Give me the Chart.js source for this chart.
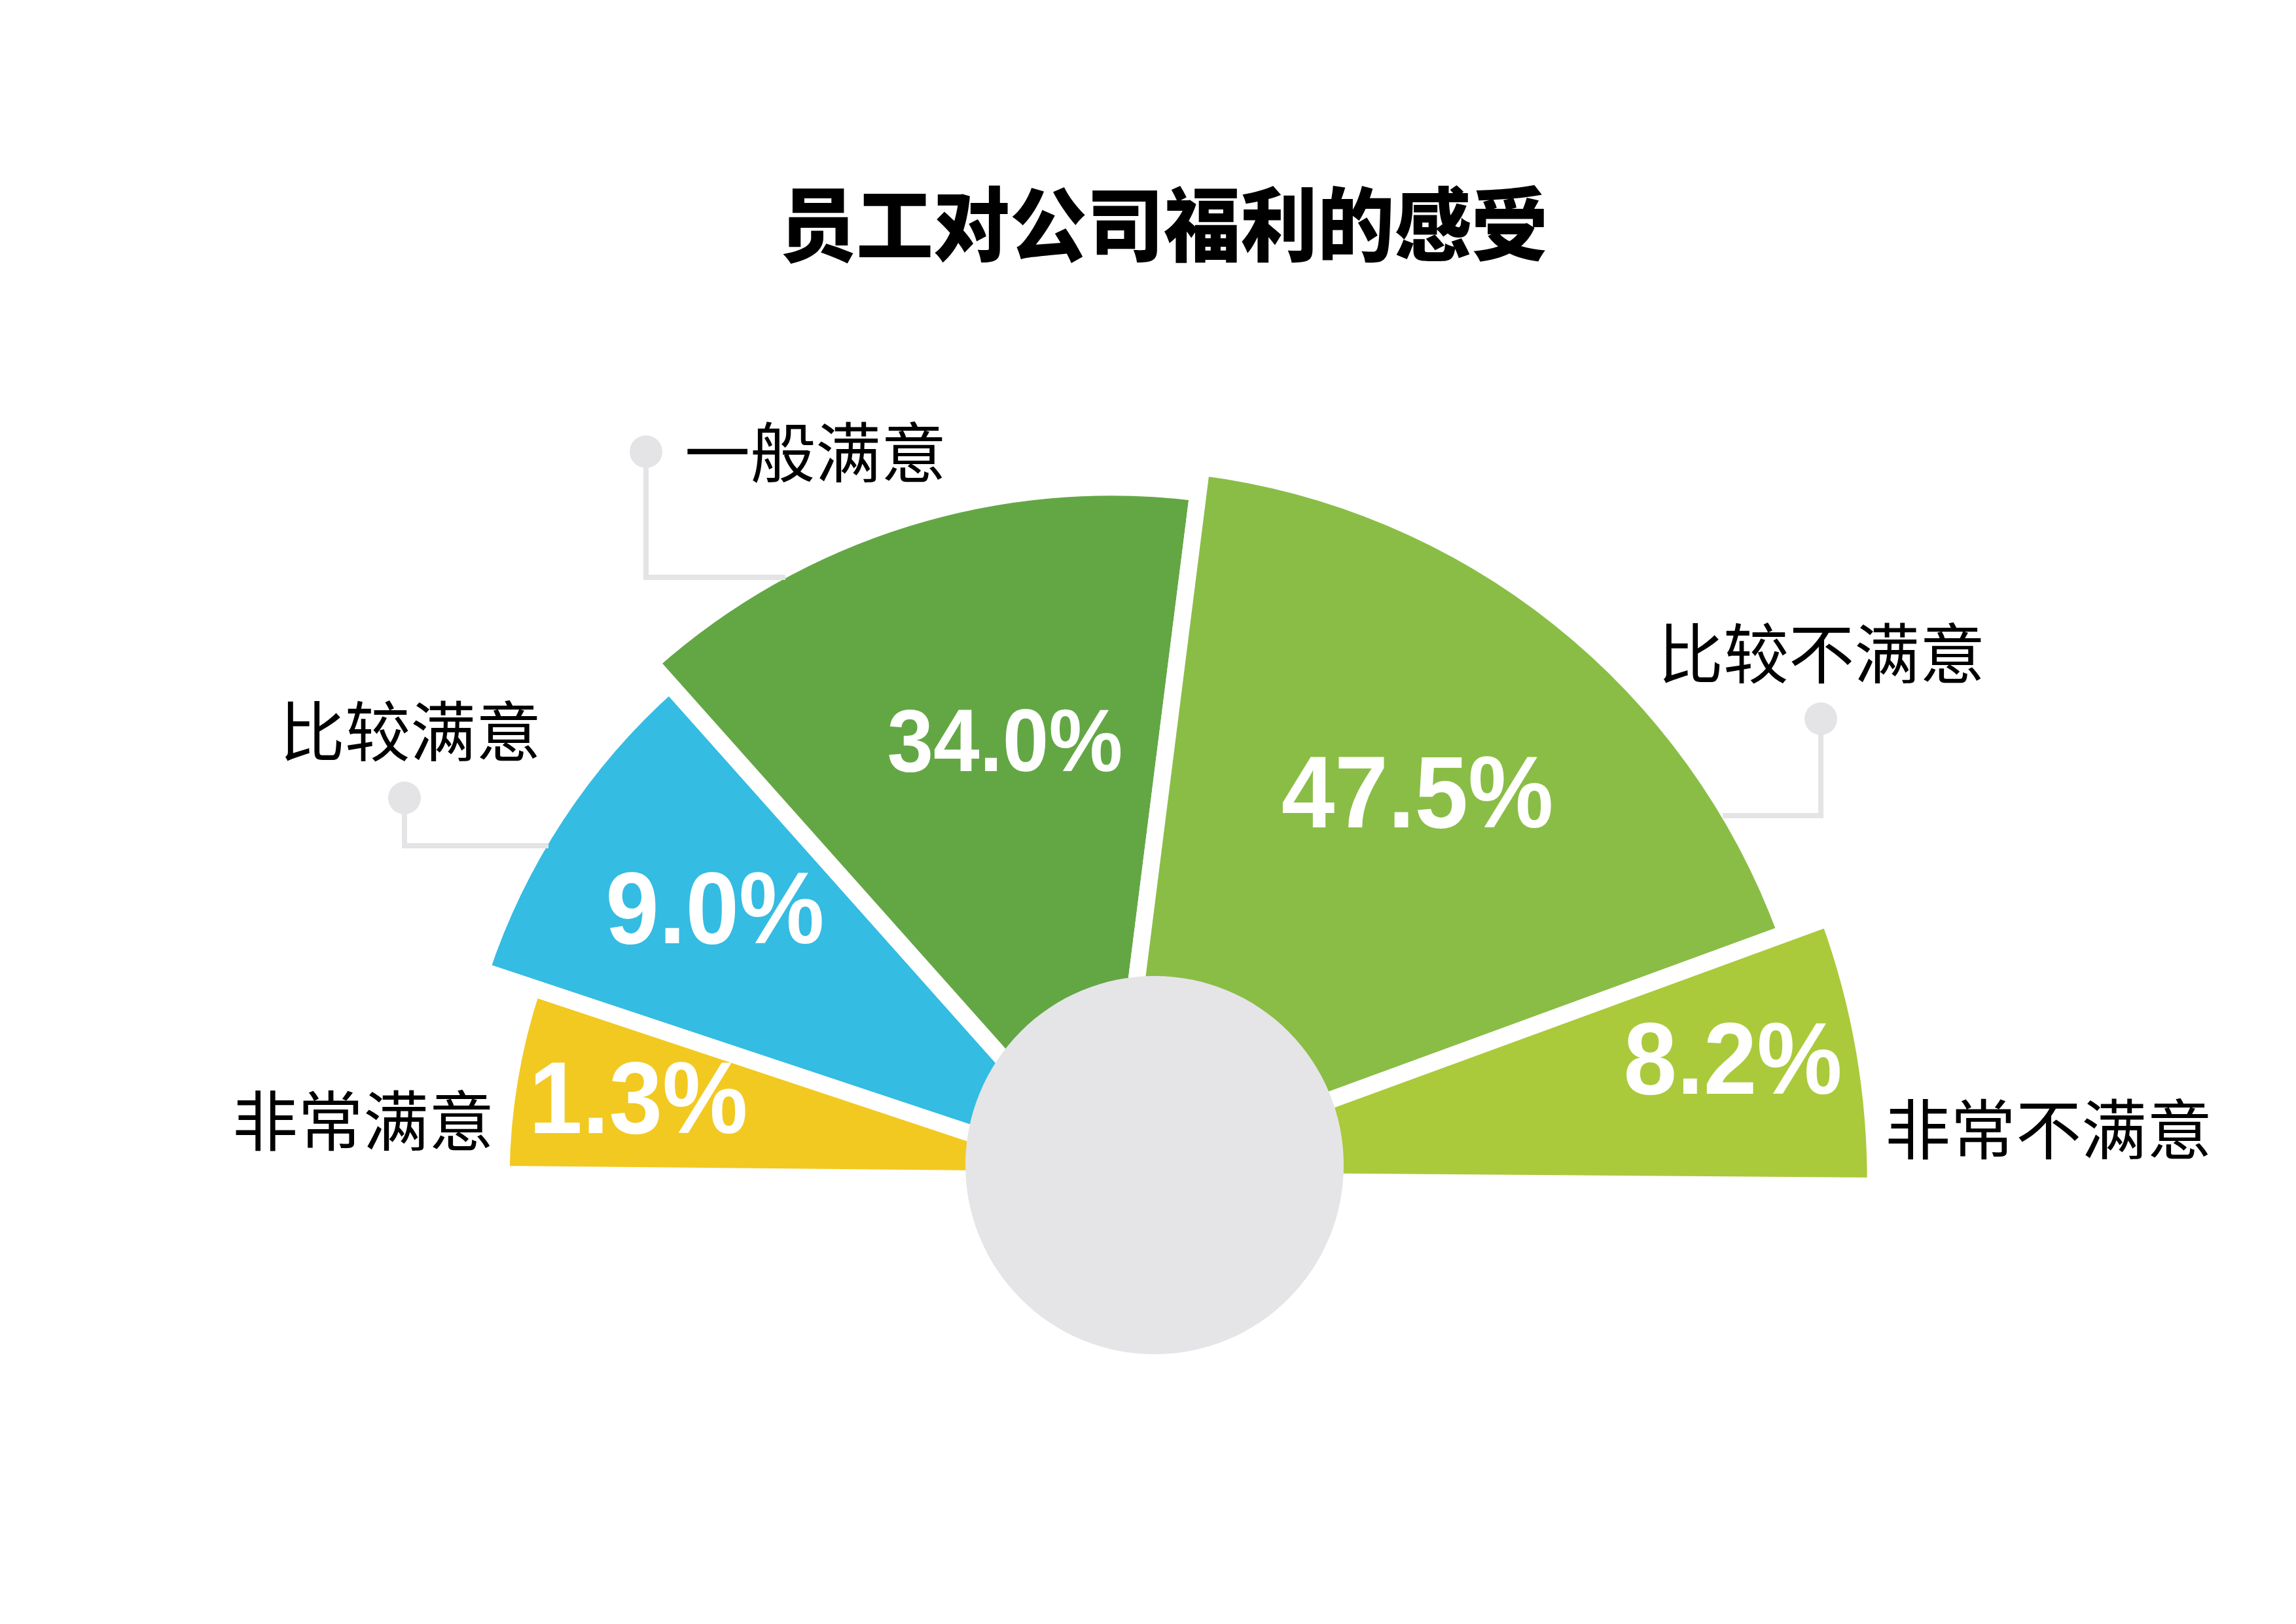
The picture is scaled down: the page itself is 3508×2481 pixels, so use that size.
<!DOCTYPE html>
<html>
<head>
<meta charset="utf-8">
<script src="https://cdn.jsdelivr.net/npm/chart.js@4.4.1/dist/chart.umd.min.js"></script>
<style>
html,body{margin:0;padding:0;background:#ffffff;overflow:hidden;width:3508px;height:2481px;}
#wrap{position:absolute;left:0;top:0;width:3508px;height:2973px;}
</style>
</head>
<body>
<div id="wrap"><canvas id="c"></canvas></div>
<script>
// ---- data ----
const chartTitle = '员工对公司福利的感受';
const categories = ['非常满意', '比较满意', '一般满意', '比较不满意', '非常不满意'];
const percentages = [1.3, 9.0, 34.0, 47.5, 8.2];
const sliceAngles = [17.84, 29.9, 48.9, 62.7, 20.54];     // degrees of each sector as drawn
const sliceRadii = [79.7, 86.75, 90.5, 93.85, 99.8];      // relative sector radius as drawn
const sliceColors = ['#F2C921', '#34BCE2', '#63A745', '#8ABD46', '#AACA3B'];

// ---- presentation settings ----
const labelT = [0.531, 0.542, 0.575, 0.494, 0.433];   // angular position of % label inside sector
const labelR = [0.787, 0.725, 0.654, 0.689, 0.829];   // radial position of % label inside sector
const labelSize = [156, 156, 135, 156, 156];
const catPos = [[555, 1712], [627, 1117], [1246, 691], [2783, 998], [3130, 1725]];
const leaders = [
  { dot: [618, 1219], elbowY: 1292, endX: 838 },
  { dot: [987, 690], elbowY: 882, endX: 1200 },
  { dot: [2782, 1098], elbowY: 1246, endX: 2632 }
];
const CJK = '"Noto Sans CJK SC", "Noto Sans", sans-serif';

const decor = {
  id: 'decor',
  afterDatasetsDraw(chart) {
    const ctx = chart.ctx;
    const sc = chart.scales.r;
    const k = sc.drawingArea / 1170;
    // leader lines with dots
    ctx.save();
    ctx.strokeStyle = '#E4E4E6';
    ctx.fillStyle = '#E4E4E6';
    ctx.lineWidth = 8;
    ctx.lineCap = 'butt';
    ctx.lineJoin = 'miter';
    for (const l of leaders) {
      ctx.beginPath();
      ctx.moveTo(l.dot[0], l.dot[1]);
      ctx.lineTo(l.dot[0], l.elbowY);
      ctx.lineTo(l.endX, l.elbowY);
      ctx.stroke();
      ctx.beginPath();
      ctx.arc(l.dot[0], l.dot[1], 25, 0, Math.PI * 2);
      ctx.fill();
    }
    // hub
    ctx.fillStyle = '#E5E5E7';
    ctx.beginPath();
    ctx.arc(sc.xCenter + 66 * k, sc.yCenter - 23 * k, 289 * k, 0, Math.PI * 2);
    ctx.fill();
    ctx.restore();
    // percentage labels
    const meta = chart.getDatasetMeta(0);
    meta.data.forEach((arc, i) => {
      const p = arc.getProps(['x', 'y', 'startAngle', 'endAngle', 'outerRadius'], true);
      const a = p.startAngle + (p.endAngle - p.startAngle) * labelT[i];
      const r = p.outerRadius * labelR[i];
      const x = p.x + Math.cos(a) * r;
      const y = p.y + Math.sin(a) * r;
      const s = labelSize[i];
      ctx.save();
      ctx.translate(x, y + 0.358 * s);
      ctx.scale(0.94, 1);
      ctx.fillStyle = '#ffffff';
      ctx.font = 'bold ' + s + 'px "Liberation Sans", Arial, sans-serif';
      ctx.textAlign = 'center';
      ctx.textBaseline = 'alphabetic';
      ctx.fillText(percentages[i].toFixed(1) + '%', 0, 0);
      ctx.restore();
    });
  },
  afterDraw(chart) {
    const ctx = chart.ctx;
    ctx.save();
    ctx.fillStyle = '#000000';
    ctx.textAlign = 'center';
    ctx.textBaseline = 'alphabetic';
    ctx.save();
    ctx.translate(1778, 342 + 0.38 * 123);
    ctx.scale(0.955, 1);
    ctx.font = '900 123px ' + CJK;
    ctx.fillText(chartTitle, 0, 0);
    ctx.restore();
    ctx.font = '400 100px ' + CJK;
    categories.forEach((c, i) => {
      ctx.fillText(c, catPos[i][0], catPos[i][1] + 0.38 * 100);
    });
    ctx.restore();
  }
};

function build() {
  new Chart(document.getElementById('c'), {
    type: 'polarArea',
    data: {
      labels: categories,
      datasets: [{
        data: sliceRadii,
        angle: sliceAngles,
        backgroundColor: sliceColors,
        borderColor: '#ffffff',
        borderWidth: 26,
        borderAlign: 'center',
        clip: false
      }]
    },
    options: {
      responsive: true,
      maintainAspectRatio: false,
      animation: false,
      devicePixelRatio: 1,
      events: [],
      layout: { padding: { left: 528, right: 640, top: 633, bottom: 0 } },
      scales: {
        r: { display: false, min: 0, max: 100, startAngle: -89.44 }
      },
      plugins: {
        legend: { display: false },
        tooltip: { enabled: false },
        title: { display: false }
      }
    },
    plugins: [decor]
  });
}

Promise.all([
  document.fonts.load('900 123px "Noto Sans CJK SC"', chartTitle),
  document.fonts.load('400 100px "Noto Sans CJK SC"', categories.join('')),
  document.fonts.load('bold 156px "Liberation Sans"', '0123456789.%')
]).then(build, build);
</script>
</body>
</html>
